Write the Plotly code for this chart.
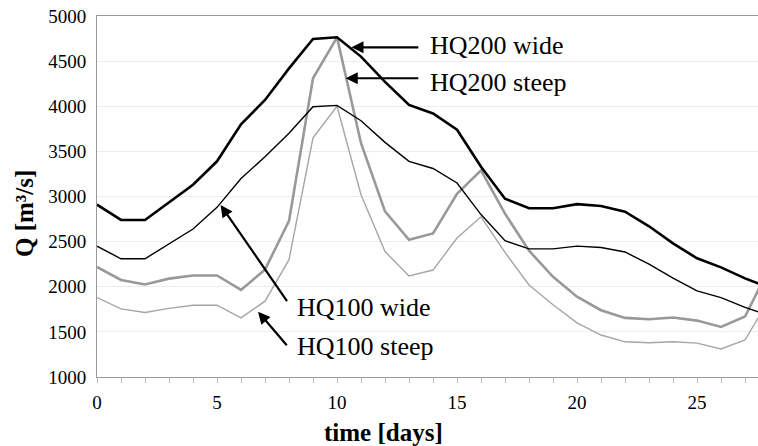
import plotly.graph_objects as go

days = list(range(0, 29))

hq200_wide = [2910, 2740, 2740, 2940, 3130, 3390, 3800, 4070, 4420, 4745,
              4764, 4550, 4270, 4015, 3920, 3740, 3330, 2975, 2870, 2870,
              2915, 2895, 2832, 2670, 2480, 2315, 2215, 2093, 1990]
hq100_wide = [2450, 2310, 2310, 2475, 2640, 2880, 3200, 3440, 3700, 3995,
              4010, 3840, 3600, 3390, 3310, 3150, 2800, 2510, 2420, 2420,
              2450, 2435, 2385, 2250, 2095, 1955, 1880, 1772, 1683]
hq200_steep = [2220, 2075, 2025, 2090, 2125, 2125, 1965, 2190, 2730, 4310,
               4764, 3590, 2835, 2520, 2590, 3030, 3290, 2810, 2400, 2110,
               1890, 1740, 1655, 1640, 1660, 1625, 1555, 1670, 2200]
hq100_steep = [1880, 1755, 1715, 1760, 1795, 1795, 1655, 1840, 2300, 3650,
               4000, 3020, 2390, 2120, 2185, 2540, 2775, 2380, 2020, 1800,
               1600, 1465, 1390, 1380, 1390, 1375, 1310, 1410, 1860]

x_ticks = [0, 5, 10, 15, 20, 25]
y_ticks = [1000, 1500, 2000, 2500, 3000, 3500, 4000, 4500, 5000]

FONT = "Liberation Serif, Times New Roman, DejaVu Serif, serif"

fig = go.Figure()
fig.add_trace(go.Scatter(x=days, y=hq100_steep, mode="lines",
                         line=dict(color="#a6a6a6", width=1.4), name="HQ100 steep"))
fig.add_trace(go.Scatter(x=days, y=hq200_steep, mode="lines",
                         line=dict(color="#999999", width=2.6), name="HQ200 steep"))
fig.add_trace(go.Scatter(x=days, y=hq100_wide, mode="lines",
                         line=dict(color="#000000", width=1.4), name="HQ100 wide"))
fig.add_trace(go.Scatter(x=days, y=hq200_wide, mode="lines",
                         line=dict(color="#000000", width=2.6), name="HQ200 wide"))

# arrows (head, tail) in data coords
arrows = [
    ((10.6, 4653), (13.45, 4653)),
    ((10.36, 4310), (13.45, 4310)),
    ((5.15, 2906), (7.96, 1825)),
    ((6.71, 1724), (7.96, 1336)),
]
for (hx, hy), (tx, ty) in arrows:
    fig.add_annotation(x=hx, y=hy, ax=tx, ay=ty, axref="x", ayref="y",
                       xref="x", yref="y", text="", showarrow=True,
                       arrowhead=2, arrowsize=1.1, arrowwidth=2.2,
                       arrowcolor="#000000", standoff=0, startstandoff=0)

labels = [
    ("HQ200 wide", 13.78, 4670),
    ("HQ200 steep", 13.78, 4260),
    ("HQ100 wide", 8.24, 1775),
    ("HQ100 steep", 8.24, 1340),
]
for txt, lx, ly in labels:
    fig.add_annotation(x=lx, y=ly, xref="x", yref="y", text=txt, showarrow=False,
                       xanchor="left", yanchor="middle",
                       font=dict(family=FONT, size=26, color="#000000"))

# axis titles
fig.add_annotation(x=-0.1104, y=0.4515, xref="paper", yref="paper",
                   text="<b>Q [m³/s]</b>", showarrow=False, textangle=-90,
                   xanchor="center", yanchor="middle",
                   font=dict(family=FONT, size=25, color="#000000"))
fig.add_annotation(x=0.4327, y=-0.155, xref="paper", yref="paper",
                   text="<b>time [days]</b>", showarrow=False,
                   xanchor="center", yanchor="middle",
                   font=dict(family=FONT, size=25, color="#000000"))

fig.update_layout(
    width=758, height=446,
    margin=dict(l=97, r=0, t=16, b=69, autoexpand=False),
    paper_bgcolor="white", plot_bgcolor="white",
    showlegend=False,
    xaxis=dict(range=[0, 27.54], tickvals=x_ticks, ticktext=[str(v) for v in x_ticks],
               showgrid=False, zeroline=False,
               showline=True, linecolor="#999999", linewidth=1, mirror=True,
               ticks="outside", ticklen=5, tickcolor="#bbbbbb", ticklabelstandoff=3,
               minor=dict(dtick=1, tick0=0, ticks="outside", ticklen=5, tickcolor="#bbbbbb"),
               tickfont=dict(family=FONT, size=19, color="#000000")),
    yaxis=dict(range=[1000, 5000], tickvals=y_ticks, ticktext=[str(v) for v in y_ticks],
               showgrid=True, gridcolor="#ececec", gridwidth=1, zeroline=False,
               showline=True, linecolor="#999999", linewidth=1,
               ticks="", ticklabelstandoff=6, ticklabeloverflow="allow",
               tickfont=dict(family=FONT, size=19, color="#000000")),
)

fig.write_html(
    "out.html",
    config={"displayModeBar": False},
    post_script="document.body.style.margin='0px';document.body.style.overflow='hidden';",
)
